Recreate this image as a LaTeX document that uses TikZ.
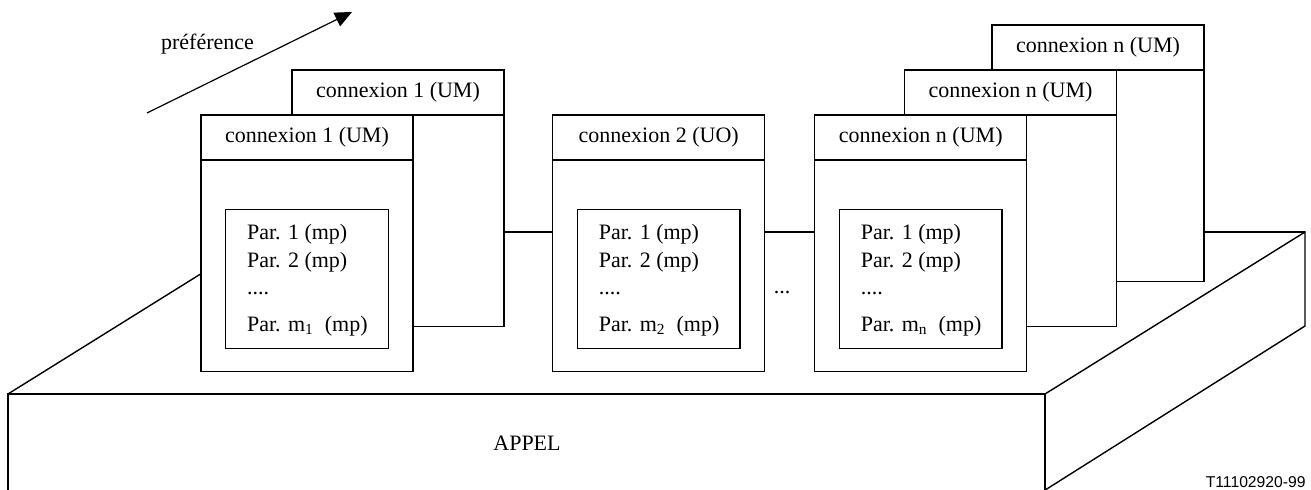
\documentclass[tikz,border=0pt]{standalone}
\usepackage{fontspec}
\setmainfont{Liberation Serif}
\newfontfamily\arialf{Liberation Sans}
\usetikzlibrary{arrows.meta}
\newcommand\cnbox[4]{%
  \node[cbox] (#1) at (#2,#3) {};
  \draw[hdr] ([yshift=-22.5pt]#1.north west) -- ([yshift=-22.5pt]#1.north east);
  \node[lbl, anchor=base] (#1l) at ([yshift=-14pt]#1.north) {#4};
}
\newcommand\cnfull[5]{%
  \cnbox{#1}{#2}{#3}{#4}
  \node[ibox] (#1i) at ([xshift=12.35pt,yshift=-47.15pt]#1.north west) {};
  \node[lbl, anchor=base west] (#1a) at ([xshift=10.5pt,yshift=-15.35pt]#1i.north west) {Par. 1 (mp)};
  \node[lbl, anchor=base west] (#1b) at ([xshift=10.5pt,yshift=-29.1pt]#1i.north west) {Par. 2 (mp)};
  \node[lbl, anchor=base west] (#1c) at ([xshift=10.5pt,yshift=-42.85pt]#1i.north west) {....};
  \node[lbl, anchor=base west] (#1d) at ([xshift=10.5pt,yshift=-61pt]#1i.north west) {Par. m\textsubscript{#5}\ \ (mp)};
}
\begin{document}
\begin{tikzpicture}[x=0.5pt,y=-0.5pt, line join=miter,
  edge/.style={line width=0.7pt},
  hdr/.style={line width=1.1pt},
  cbox/.style={draw, line width=0.7pt, fill=white, minimum width=106pt, minimum height=128.35pt, anchor=north west, inner sep=0pt, outer sep=0pt},
  ibox/.style={draw, line width=0.7pt, minimum width=81.3pt, minimum height=69.7pt, anchor=north west, inner sep=0pt, outer sep=0pt},
  lbl/.style={font=\fontsize{11pt}{13pt}\selectfont, inner sep=0pt},
]
\useasboundingbox (0,0) rectangle (1311,490);

% platform (APPEL)
\coordinate (fbl) at (8,492);
\coordinate (ftl) at (8,394);
\coordinate (ftr) at (1045,394);
\coordinate (fbr) at (1045,492);
\coordinate (btl) at (268,232);
\coordinate (btr) at (1305,232);
\coordinate (bbr) at (1305,326);
\coordinate (rbb) at (1042,492);
\draw[edge] (fbl) -- (ftl) -- (ftr) -- (fbr);
\draw[edge] (ftl) -- (btl);
\draw[hdr] (btl) -- (btr);
\draw[edge] (ftr) -- (btr) -- (bbr) -- (rbb);
\node[lbl] (appel) at (527,443) {APPEL};

% preference arrow
\coordinate (a0) at (147,113);
\coordinate (a1) at (352,12);
\draw[line width=0.6pt, -{Triangle[length=8.5pt,width=7.5pt]}] (a0) -- (a1);
\node[lbl, anchor=base] (pref) at (207.5,50) {préférence};

% connexion 1
\cnbox{c1b}{292}{70}{connexion 1 (UM)}
\cnfull{c1}{201}{115}{connexion 1 (UM)}{1}

% connexion 2
\cnfull{c2}{552.7}{115}{connexion 2 (UO)}{2}

% connexion n
\cnbox{cnc}{992}{25}{connexion n (UM)}
\cnbox{cnb}{904.5}{70}{connexion n (UM)}
\cnfull{cn}{814.7}{115}{connexion n (UM)}{n}

\node[lbl, anchor=base] (dots) at (782,294) {...};

\node[font=\arialf\fontsize{7.85pt}{9pt}\selectfont, anchor=base east, inner sep=0pt] (ref) at (1306,487.5) {T11102920-99};
\end{tikzpicture}
\end{document}
